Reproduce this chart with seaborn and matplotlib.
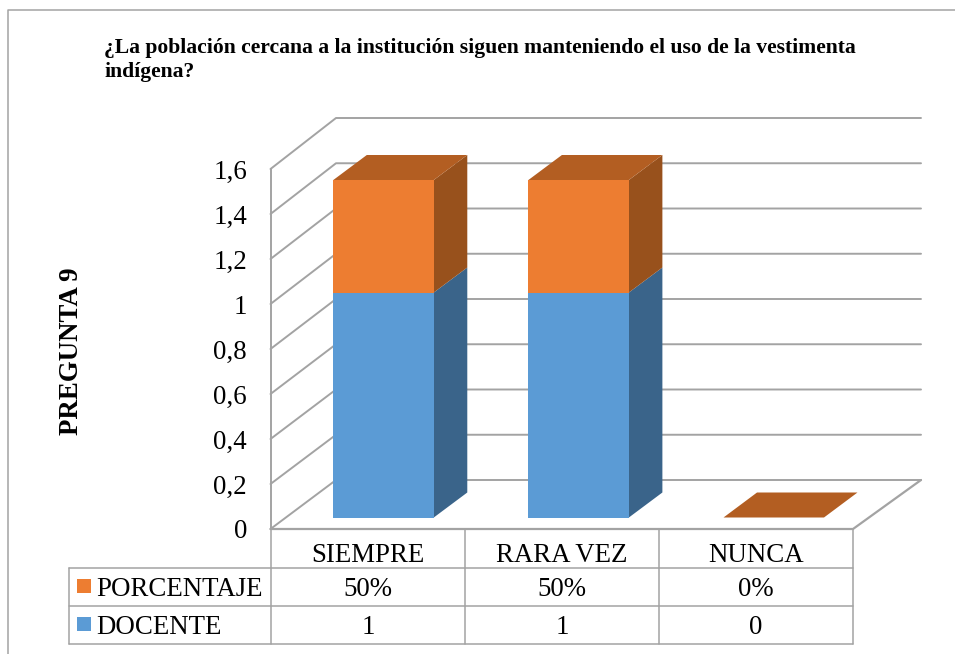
import matplotlib
matplotlib.use("Agg")
import matplotlib.pyplot as plt
import seaborn as sns
import pandas as pd

categorias = ["SIEMPRE", "RARA VEZ", "NUNCA"]
docente = [1, 1, 0]
porcentaje = [0.5, 0.5, 0.0]
porcentaje_txt = ["50%", "50%", "0%"]
ticks = [0, 0.2, 0.4, 0.6, 0.8, 1.0, 1.2, 1.4, 1.6]
tick_labels = ["0", "0,2", "0,4", "0,6", "0,8", "1", "1,2", "1,4", "1,6"]
titulo = ("¿La población cercana a la institución siguen manteniendo el uso de la vestimenta\n"
          "indígena?")

AZUL, AZUL_LADO = "#5B9BD5", "#3A648A"
NARANJA, NARANJA_LADO, NARANJA_TOPE = "#ED7D31", "#98511C", "#B35E22"
GRIS = "#a3a3a3"
SERIF = "Liberation Serif"

W, H = 955, 654
sns.set_theme(style="white")
plt.rcParams["font.family"] = [SERIF, "DejaVu Sans"]

fig = plt.figure(figsize=(W / 100, H / 100), dpi=100)

# background axes in pixels, for the frame and the data table
bg = fig.add_axes([0, 0, 1, 1])
bg.set_xlim(0, W)
bg.set_ylim(H, 0)
bg.axis("off")
bg.plot([7.5, 7.5, W], [H, 10, 10], color=GRIS, lw=1.1)

col_x = [271, 465, 659, 853]
row_y = [567.5, 606, 644]
for y in row_y:
    bg.plot([68.5, 853], [y, y], color=GRIS, lw=1.1)
for x in col_x:
    bg.plot([x, x], [529, 644], color=GRIS, lw=1.1)
bg.plot([68.5, 68.5], [567.5, 644], color=GRIS, lw=1.1)

FS = 19.4
for i, cat in enumerate(categorias):
    cx = (col_x[i] + col_x[i + 1]) / 2
    bg.text(cx, 555, cat, ha="center", va="center", fontsize=FS, color="black")
    bg.text(cx, 589, porcentaje_txt[i], ha="center", va="center", fontsize=FS, color="black")
    bg.text(cx, 627, str(docente[i]), ha="center", va="center", fontsize=FS, color="black")

for nombre, color, y in [("PORCENTAJE", NARANJA, 586), ("DOCENTE", AZUL, 624)]:
    bg.fill([77, 91, 91, 77], [y - 7, y - 7, y + 7, y + 7], color=color, lw=0)
    bg.text(96, y + 3, nombre, ha="left", va="center", fontsize=FS, color="black")

bg.text(104, 60, titulo, ha="left", va="center", fontsize=15.55, fontweight="bold",
        color="black", linespacing=1.2)
bg.text(71, 351, "PREGUNTA 9", rotation=90, ha="center", va="center", fontsize=19.4,
        fontweight="bold", color="black")

# main axes sits on the front plane of the bars
PX_X, PX_Y = 195.1, 225.0
left, right = 286.0, 286.0 + 3 * PX_X
bottom, top = 517.5, 517.5 - 1.6 * PX_Y
ax = fig.add_axes([left / W, 1 - bottom / H, (right - left) / W, (bottom - top) / H])
ax.patch.set_alpha(0)

df = pd.DataFrame({"cat": categorias, "docente": docente, "porcentaje": porcentaje})
df["total"] = df["docente"] + df["porcentaje"]
ANCHO = 0.515

# pixel offsets turned into data units
def ox(px):
    return px / PX_X

def oy(px):
    return px / PX_Y

# walls and floor, from the front corner (x0f) back to the rear plane
x0f, x1f = -0.5 + ox(-15.5), -0.5 + ox(853 - left)
x0b, x1b = -0.5 + ox(336 - left), -0.5 + ox(921 - left)
y_front, y_back = oy(-11.5), oy(37.5)
for t in ticks:
    yb = y_back + t * (362 / 1.6) / PX_Y
    yf = y_front + t
    ax.plot([x0f, x0b, x1b], [yf, yb, yb], color=GRIS, lw=1.4, zorder=1, clip_on=False)
ax.plot([x0f, x0f], [y_front, y_front + 1.6], color=GRIS, lw=1.4, zorder=1, clip_on=False)
ax.plot([x0f, x1f, x1b], [y_front, y_front, y_back], color=GRIS, lw=1.6, zorder=1, clip_on=False)

# tick labels live on the front wall edge
for t, lab in zip(ticks, tick_labels):
    ax.text(-0.5 + ox(247 - left), y_front + t + oy(-3), lab, ha="right", va="center",
            fontsize=FS, color="black", clip_on=False)

# 3D sides and tops of the bars
dx, dy = ox(33.5), oy(25)
for i, row in df.iterrows():
    xr = i + ANCHO / 2
    xl = i - ANCHO / 2
    d, t = row["docente"], row["total"]
    if d > 0:
        ax.fill([xr, xr + dx, xr + dx, xr], [0, dy, d + dy, d], color=AZUL_LADO, lw=0,
                zorder=2, clip_on=False)
    if t > d:
        ax.fill([xr, xr + dx, xr + dx, xr], [d, d + dy, t + dy, t], color=NARANJA_LADO, lw=0,
                zorder=2, clip_on=False)
    ax.fill([xl, xr, xr + dx, xl + dx], [t, t, t + dy, t + dy], color=NARANJA_TOPE, lw=0,
            zorder=2, clip_on=False)

# front faces: total in orange, docente over it in blue
sns.barplot(data=df, x="cat", y="total", color=NARANJA, saturation=1, width=ANCHO,
            ax=ax, zorder=3, linewidth=0)
sns.barplot(data=df, x="cat", y="docente", color=AZUL, saturation=1, width=ANCHO,
            ax=ax, zorder=4, linewidth=0)
ax.set_xlim(-0.5, 2.5)
ax.set_ylim(0, 1.6)
ax.axis("off")

fig.savefig("out.png", dpi=100)
